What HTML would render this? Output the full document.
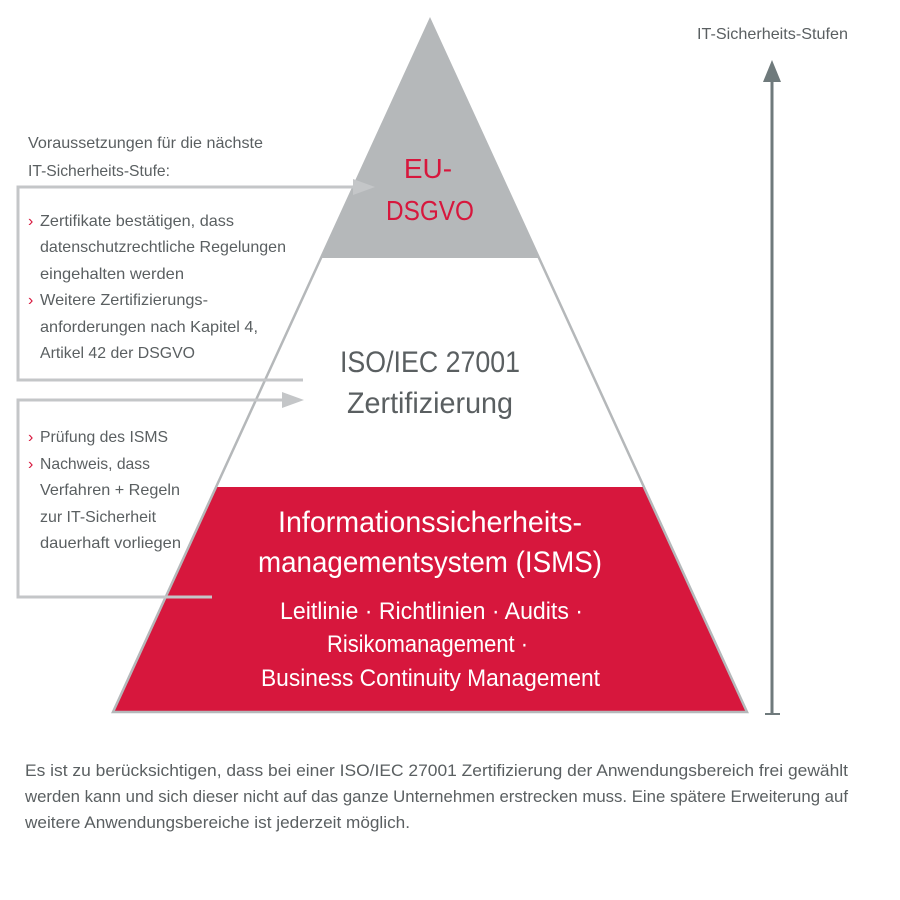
<!DOCTYPE html>
<html><head><meta charset="utf-8"><style>
html,body{margin:0;padding:0;background:#fff;width:900px;height:900px;overflow:hidden}
svg text{font-family:"Liberation Sans Narrow","Liberation Sans",sans-serif}
</style></head><body>
<svg width="900" height="900" viewBox="0 0 900 900" xmlns="http://www.w3.org/2000/svg">
<!-- pyramid -->
<polygon points="430,20 321,258 539,258" fill="#b5b8ba"/>
<polygon points="321,258 539,258 644,487 216,487" fill="#fff"/>
<polygon points="216,487 644,487 747,712 113,712" fill="#d7173d"/>
<polygon points="430,20 747,712 113,712" fill="none" stroke="#b5b8ba" stroke-width="2.5"/>
<!-- left brackets -->
<g stroke="#c4c6c8" stroke-width="3" fill="none">
<polyline points="355,187 18,187 18,380 303,380"/>
<polyline points="283,400 18,400 18,597 212,597"/>
</g>
<polygon points="353,179 375,187 353,195" fill="#c4c6c8"/>
<polygon points="282,392 304,400 282,408" fill="#c4c6c8"/>
<!-- right arrow -->
<line x1="772" y1="78" x2="772" y2="714" stroke="#6f7a7c" stroke-width="3"/>
<polygon points="763,82 772,60 781,82" fill="#6f7a7c"/>
<line x1="765" y1="714" x2="780" y2="714" stroke="#6f7a7c" stroke-width="2"/>
<g fill="#5a5f61" font-size="16">
<text x="697" y="39" textLength="151" lengthAdjust="spacingAndGlyphs">IT-Sicherheits-Stufen</text>
<text x="28" y="148" textLength="235" lengthAdjust="spacingAndGlyphs">Voraussetzungen für die nächste</text>
<text x="28" y="176" textLength="142" lengthAdjust="spacingAndGlyphs">IT-Sicherheits-Stufe:</text>
<text x="40" y="226" textLength="194" lengthAdjust="spacingAndGlyphs">Zertifikate bestätigen, dass</text>
<text x="40" y="252" textLength="246" lengthAdjust="spacingAndGlyphs">datenschutzrechtliche Regelungen</text>
<text x="40" y="279" textLength="144" lengthAdjust="spacingAndGlyphs">eingehalten werden</text>
<text x="40" y="305" textLength="168" lengthAdjust="spacingAndGlyphs">Weitere Zertifizierungs-</text>
<text x="40" y="332" textLength="218" lengthAdjust="spacingAndGlyphs">anforderungen nach Kapitel 4,</text>
<text x="40" y="358" textLength="155" lengthAdjust="spacingAndGlyphs">Artikel 42 der DSGVO</text>
<text x="40" y="442" textLength="128" lengthAdjust="spacingAndGlyphs">Prüfung des ISMS</text>
<text x="40" y="469" textLength="110" lengthAdjust="spacingAndGlyphs">Nachweis, dass</text>
<text x="40" y="495" textLength="140" lengthAdjust="spacingAndGlyphs">Verfahren + Regeln</text>
<text x="40" y="522" textLength="116" lengthAdjust="spacingAndGlyphs">zur IT-Sicherheit</text>
<text x="40" y="548" textLength="141" lengthAdjust="spacingAndGlyphs">dauerhaft vorliegen</text>
</g>
<g fill="#d7173d" font-size="16">
<text x="28" y="226">›</text><text x="28" y="305">›</text>
<text x="28" y="442">›</text><text x="28" y="469">›</text>
</g>
<g fill="#d7173d" font-size="28" text-anchor="middle">
<text x="428" y="178">EU-</text>
<text x="430" y="220" textLength="88" lengthAdjust="spacingAndGlyphs">DSGVO</text>
</g>
<g fill="#5a5f61" font-size="30">
<text x="340" y="372" textLength="180" lengthAdjust="spacingAndGlyphs">ISO/IEC 27001</text>
<text x="347" y="413" textLength="166" lengthAdjust="spacingAndGlyphs">Zertifizierung</text>
</g>
<g fill="#fff">
<text x="278" y="532" font-size="30" textLength="304" lengthAdjust="spacingAndGlyphs">Informationssicherheits-</text>
<text x="258" y="572" font-size="30" textLength="344" lengthAdjust="spacingAndGlyphs">managementsystem (ISMS)</text>
<text x="280" y="619" font-size="24" textLength="303" lengthAdjust="spacingAndGlyphs">Leitlinie · Richtlinien · Audits ·</text>
<text x="327" y="652" font-size="24" textLength="201" lengthAdjust="spacingAndGlyphs">Risikomanagement ·</text>
<text x="261" y="686" font-size="24" textLength="339" lengthAdjust="spacingAndGlyphs">Business Continuity Management</text>
</g>
<g fill="#5a5f61" font-size="17">
<text x="25" y="776" textLength="823" lengthAdjust="spacingAndGlyphs">Es ist zu berücksichtigen, dass bei einer ISO/IEC 27001 Zertifizierung der Anwendungsbereich frei gewählt</text>
<text x="25" y="802" textLength="823" lengthAdjust="spacingAndGlyphs">werden kann und sich dieser nicht auf das ganze Unternehmen erstrecken muss. Eine spätere Erweiterung auf</text>
<text x="25" y="828" textLength="385" lengthAdjust="spacingAndGlyphs">weitere Anwendungsbereiche ist jederzeit möglich.</text>
</g>
</svg>
</body></html>
